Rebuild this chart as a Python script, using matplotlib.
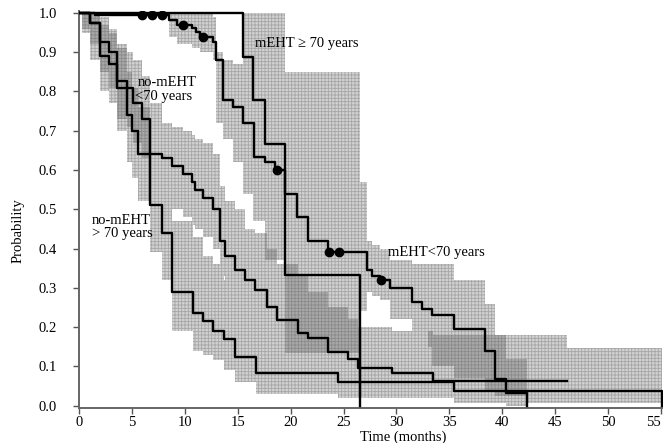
import numpy as np
import matplotlib
matplotlib.use("Agg")
import matplotlib.pyplot as plt

plt.rcParams['font.family'] = ['Liberation Serif', 'DejaVu Serif']
plt.rcParams['hatch.linewidth'] = 0.6

# ---------------- data ----------------
# no-mEHT > 70 years
tA = [0, 0.3, 1.0, 2.0, 2.8, 3.6, 4.5, 5.0, 5.6, 6.7, 7.8, 8.8, 10.8, 11.7, 12.7, 13.7, 14.7, 16.7, 24.5, 35.4, 55.1]
sA = [1.0, 1.0, 0.975, 0.89, 0.87, 0.81, 0.74, 0.70, 0.64, 0.51, 0.44, 0.29, 0.235, 0.215, 0.19, 0.17, 0.125, 0.082, 0.059, 0.038, 0.0]
loA = [1.0, 0.95, 0.88, 0.80, 0.77, 0.70, 0.62, 0.58, 0.52, 0.39, 0.32, 0.19, 0.14, 0.13, 0.115, 0.09, 0.06, 0.03, 0.02, 0.008, 0.0]
upA = [1.0, 1.0, 1.0, 0.97, 0.95, 0.91, 0.85, 0.81, 0.76, 0.60, 0.55, 0.47, 0.43, 0.38, 0.36, 0.32, 0.27, 0.20, 0.17, 0.148, 0.0]

# no-mEHT < 70 years
tB = [0, 0.3, 1.0, 2.0, 2.8, 3.6, 4.5, 5.1, 6.0, 6.7, 7.8, 8.8, 9.8, 10.7, 11.0, 11.7, 12.7, 13.3, 13.8, 14.7,
      15.7, 16.6, 17.8, 18.7, 20.7, 21.6, 23.5, 25.4, 26.4, 29.6, 33.5, 46.1]
sB = [1.0, 1.0, 0.975, 0.926, 0.90, 0.826, 0.81, 0.77, 0.73, 0.64, 0.63, 0.61, 0.59, 0.57, 0.55, 0.53, 0.50, 0.42, 0.38, 0.345,
      0.32, 0.294, 0.25, 0.217, 0.184, 0.171, 0.136, 0.12, 0.097, 0.082, 0.064, 0.064]
loB = [1.0, 0.96, 0.92, 0.85, 0.81, 0.73, 0.71, 0.67, 0.63, 0.55, 0.53, 0.50, 0.48, 0.46, 0.45, 0.43, 0.40, 0.33, 0.29, 0.25,
       0.23, 0.20, 0.16, 0.13, 0.105, 0.095, 0.07, 0.06, 0.045, 0.035, 0.025, 0.025]
upB = [1.0, 1.0, 1.0, 0.99, 0.96, 0.92, 0.90, 0.88, 0.84, 0.77, 0.72, 0.71, 0.70, 0.69, 0.68, 0.67, 0.64, 0.56, 0.52, 0.50,
       0.45, 0.44, 0.40, 0.36, 0.33, 0.29, 0.25, 0.22, 0.20, 0.19, 0.18, 0.18]

# mEHT < 70 years
tC = [0, 1.5, 8.5, 9.3, 10.7, 11.1, 11.4, 12.7, 12.9, 13.6, 14.6, 15.5, 16.5, 17.6, 18.5, 19.5, 20.6, 21.6, 23.5,
      27.2, 27.7, 28.4, 29.4, 31.5, 32.4, 33.4, 35.4, 38.4, 39.3, 40.4, 42.3]
sC = [1.0, 0.994, 0.982, 0.969, 0.962, 0.952, 0.939, 0.926, 0.88, 0.778, 0.76, 0.72, 0.634, 0.62, 0.60, 0.54, 0.48, 0.42, 0.39,
      0.345, 0.33, 0.32, 0.30, 0.263, 0.247, 0.23, 0.196, 0.14, 0.069, 0.031, 0.0]
loC = [1.0, 0.994, 0.94, 0.92, 0.91, 0.91, 0.90, 0.88, 0.72, 0.68, 0.62, 0.54, 0.52, 0.48, 0.45, 0.40, 0.33, 0.27, 0.24,
       0.29, 0.28, 0.27, 0.22, 0.17, 0.15, 0.10, 0.07, 0.04, 0.01, 0.0, 0.0]
upC = [1.0, 0.994, 1.0, 1.0, 1.0, 1.0, 1.0, 0.99, 0.90, 0.88, 0.87, 0.85, 0.80, 0.78, 0.76, 0.71, 0.66, 0.60, 0.57,
       0.42, 0.41, 0.40, 0.37, 0.36, 0.36, 0.36, 0.32, 0.26, 0.18, 0.12, 0.0]
censC = [6.0, 6.9, 7.8, 9.8, 11.7, 18.7, 23.6, 24.6, 28.5]

# mEHT >= 70 years
tD = [0, 15.5, 16.4, 17.6, 19.5, 26.6]
sD = [1.0, 0.889, 0.778, 0.667, 0.333, 0.0]
loD = [1.0, 0.60, 0.47, 0.37, 0.133, 0.0]
upD = [1.0, 1.0, 1.0, 1.0, 0.85, 0.0]

xticks = [0, 5, 10, 15, 20, 25, 30, 35, 40, 45, 50, 55]
yticks = [0.0, 0.1, 0.2, 0.3, 0.4, 0.5, 0.6, 0.7, 0.8, 0.9, 1.0]

LIGHT_FACE, LIGHT_HATCH = '#d2d2d2', '#a6a6a6'
DARK_FACE, DARK_HATCH = '#a9a9a9', '#8a8a8a'


def stepval(t, v, g):
    t = np.asarray(t, float)
    v = np.asarray(v, float)
    idx = np.clip(np.searchsorted(t, g, side='right') - 1, 0, len(t) - 1)
    return v[idx]


def band(ax, t, lo, up, face, hatch_col):
    ax.fill_between(t, lo, up, step='post', facecolor=face, edgecolor=hatch_col,
                    hatch='+++++', linewidth=0, zorder=1)


def overlap(ax, b1, b2, tmin=None, tmax=None):
    (t1, l1, u1), (t2, l2, u2) = b1, b2
    a = max(t1[0], t2[0]) if tmin is None else max(tmin, t1[0], t2[0])
    b = min(t1[-1], t2[-1]) if tmax is None else min(tmax, t1[-1], t2[-1])
    g = np.unique(np.concatenate([np.asarray(t1, float), np.asarray(t2, float), [a, b]]))
    g = g[(g >= a) & (g <= b)]
    lo = np.maximum(stepval(t1, l1, g), stepval(t2, l2, g))
    up = np.minimum(stepval(t1, u1, g), stepval(t2, u2, g))
    up = np.maximum(up, lo)
    ax.fill_between(g, lo, up, step='post', facecolor=DARK_FACE, edgecolor=DARK_HATCH,
                    hatch='+++++', linewidth=0, zorder=2)


fig = plt.figure(figsize=(6.63, 4.43), dpi=100)
ax = fig.add_axes([79 / 663, 35 / 443, 584 / 663, 397 / 443])

bandA = (tA, loA, upA)
bandB = (tB, loB, upB)
bandC = (tC, loC, upC)
bandD = (tD, loD, upD)
for bd in (bandA, bandB, bandC, bandD):
    band(ax, *bd, LIGHT_FACE, LIGHT_HATCH)

overlap(ax, bandA, bandB, tmax=6.7)
overlap(ax, bandB, bandD)
overlap(ax, bandB, bandC, tmin=33.0)

for t, s in ((tA, sA), (tB, sB), (tC, sC), (tD, sD)):
    ax.step(t, s, where='post', color='black', lw=1.7, zorder=4)
ax.plot(censC, stepval(tC, sC, np.asarray(censC)), 'o', color='black', ms=6, zorder=5)

ax.set_xlim(0, 55.19)
ax.set_ylim(-0.006, 1.005)
ax.set_xticks(xticks)
ax.set_xticklabels([str(v) for v in xticks])
ax.get_xticklabels()[-1].set_horizontalalignment('right')
ax.set_yticks(yticks)
ax.set_yticklabels([f"{v:.1f}" for v in yticks])
ax.tick_params(axis='y', direction='out', length=4, width=1, pad=12, labelsize=10.5, color='#555555')
ax.tick_params(axis='x', direction='out', length=4, width=1, pad=1.5, labelsize=10.5, color='#555555')
for side in ('top', 'right'):
    ax.spines[side].set_visible(False)
for side in ('left', 'bottom'):
    ax.spines[side].set_color('#666666')
    ax.spines[side].set_linewidth(1.4)

fs = 10.5
ax.text(16.6, 0.923, "mEHT \u2265 70 years", fontsize=fs, ha='left', va='center', zorder=6)
ax.text(5.5, 0.824, "no-mEHT", fontsize=fs, ha='left', va='center', zorder=6)
ax.text(5.3, 0.788, "<70 years", fontsize=fs, ha='left', va='center', zorder=3)
ax.text(1.23, 0.472, "no-mEHT", fontsize=fs, ha='left', va='center', zorder=6)
ax.text(1.23, 0.439, "> 70 years", fontsize=fs, ha='left', va='center', zorder=6)
ax.text(29.2, 0.39, "mEHT<70 years", fontsize=fs, ha='left', va='center', zorder=6)

fig.text(403 / 663, 1 - 437 / 443, "Time (months)", fontsize=fs, ha='center', va='center')
fig.text(18 / 663, 1 - 231 / 443, "Probability", fontsize=fs, ha='center', va='center', rotation=90)

fig.savefig("out.png", dpi=100)
